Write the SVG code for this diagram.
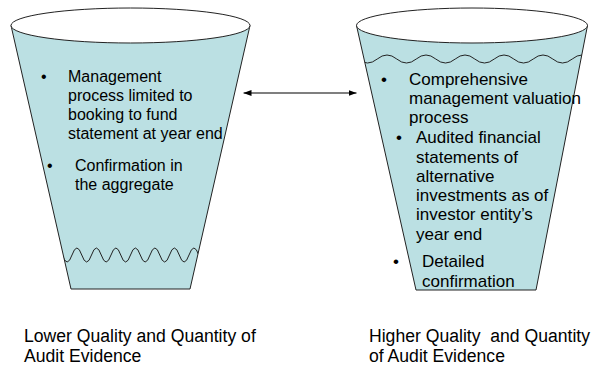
<svg xmlns="http://www.w3.org/2000/svg" width="594" height="367" viewBox="0 0 594 367">
<style>
.cup{fill:#BBE0E3;stroke:#222;stroke-width:1}
.rim{fill:#fff;stroke:#222;stroke-width:1}
.wave{fill:none;stroke:#222;stroke-width:1}
.t{font-family:"Liberation Sans",Arial,sans-serif;fill:#000}
.l{font-size:16px}
.r{font-size:17px}
.lab{font-size:17.6px}
.conn{stroke:#000;stroke-width:1.2;fill:none}
</style>
<defs>
<marker id="ah" viewBox="0 0 8 6" refX="8" refY="3" markerWidth="8" markerHeight="6" markerUnits="userSpaceOnUse" orient="auto-start-reverse">
<path d="M0,0 L8,3 L0,6 z" fill="#000"/>
</marker>
<clipPath id="clipL"><polygon points="11,25.5 71,289 190,289 250,25.5"/></clipPath>
<clipPath id="clipR"><polygon points="356.5,25.5 416,290 536,290 587.5,25.5"/></clipPath>
</defs>

<g id="cup-left">
<polygon class="cup" points="11,25.5 71,289 190,289 250,25.5"/>
<ellipse class="rim" cx="130.5" cy="25.5" rx="119.5" ry="17.5"/>
<path class="wave" clip-path="url(#clipL)" d="M62.25,255 Q67.125,269 72,255 T81.75,255 T91.5,255 T101.25,255 T111,255 T120.75,255 T130.5,255 T140.25,255 T150,255 T159.75,255 T169.5,255 T179.25,255 T189,255 T198.75,255"/>
<text class="t l" x="41" y="82">•</text>
<text class="t l" x="68" y="82">Management</text>
<text class="t l" x="68" y="101">process limited to</text>
<text class="t l" x="68" y="120">booking to fund</text>
<text class="t l" x="68" y="139">statement at year end</text>
<text class="t l" x="47" y="171">•</text>
<text class="t l" x="75" y="171">Confirmation in</text>
<text class="t l" x="75" y="190">the aggregate</text>
</g>

<g id="cup-right">
<polygon class="cup" points="356.5,25.5 416,290 536,290 587.5,25.5"/>
<ellipse class="rim" cx="472" cy="25.5" rx="115.5" ry="17.5"/>
<path class="wave" clip-path="url(#clipR)" d="M357.75,59 Q367.5,67 377.25,59 T396.75,59 T416.25,59 T435.75,59 T455.25,59 T474.75,59 T494.25,59 T513.75,59 T533.25,59 T552.75,59 T572.25,59 T591.75,59"/>
<text class="t r" x="381" y="85">•</text>
<text class="t r" x="409" y="85">Comprehensive</text>
<text class="t r" x="409" y="104">management valuation</text>
<text class="t r" x="409" y="123">process</text>
<text class="t r" x="396" y="143">•</text>
<text class="t r" x="416" y="143">Audited financial</text>
<text class="t r" x="416" y="163">statements of</text>
<text class="t r" x="416" y="182">alternative</text>
<text class="t r" x="416" y="201">investments as of</text>
<text class="t r" x="416" y="220">investor entity’s</text>
<text class="t r" x="416" y="240">year end</text>
<text class="t r" x="393" y="267">•</text>
<text class="t r" x="422" y="267">Detailed</text>
<text class="t r" x="422" y="287">confirmation</text>
</g>

<g id="connectors">
<line class="conn" x1="243.5" y1="93" x2="356.5" y2="93" marker-start="url(#ah)" marker-end="url(#ah)"/>
</g>

<g id="label-left">
<text class="t lab" x="24" y="342">Lower Quality and Quantity of</text>
<text class="t lab" x="24" y="362">Audit Evidence</text>
</g>
<g id="label-right">
<text class="t lab" x="369" y="342" xml:space="preserve">Higher Quality  and Quantity</text>
<text class="t lab" x="369" y="362">of Audit Evidence</text>
</g>
</svg>
